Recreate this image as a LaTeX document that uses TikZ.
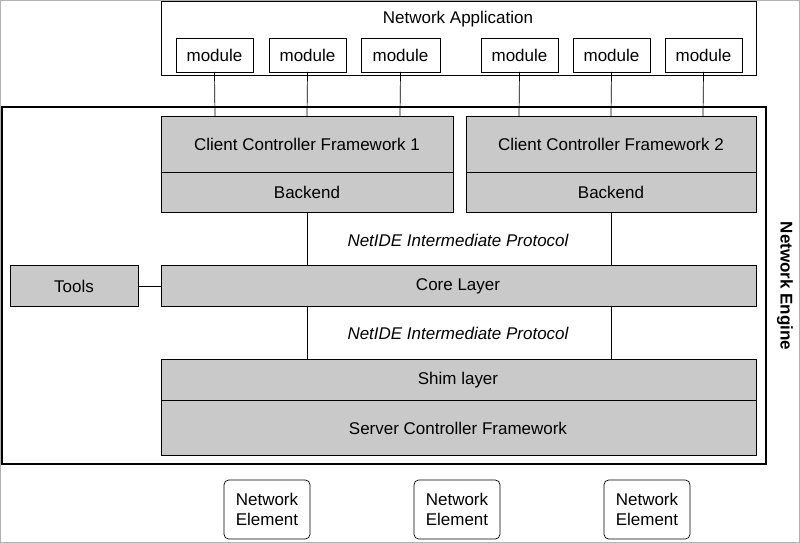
\documentclass[tikz,border=0pt]{standalone}
\usepackage{fontspec}
\setmainfont{Liberation Sans}
\begin{document}
\begin{tikzpicture}[x=0.03cm,y=-0.03cm,
 box/.style={draw,line width=0.6pt},
 gbox/.style={draw,fill=gray!42,line width=0.6pt},
 txt/.style={font=\fontsize{14.5}{17}\selectfont,inner sep=0pt},
 ln/.style={line width=0.6pt}]
\useasboundingbox (0,0) rectangle (800,543);
\draw[gray!60] (0.5,0.5) rectangle (799.5,542.5);
\draw[box] (161,1) rectangle (756,75);
\node[txt] (na) at (458,19) {Network Application};
\foreach \n/\a/\b in {m1/176/253,m2/269/346,m3/361/440,m4/481/558,m5/573/650,m6/665/742}{
  \draw[box] (\a,38) rectangle (\b,72);
  \node[txt] (\n) at ({(\a+\b)/2},55) {module};
  \coordinate (\n b) at ({(\a+\b)/2},72);
}
\draw[line width=1.6pt] (2,107) rectangle (766,464);
\node[txt,font=\fontsize{14.5}{17}\selectfont\bfseries,rotate=-90] (ne) at (785,286) {Network Engine};
\draw[gbox] (161,116) rectangle (453,212); \draw[ln] (161,172)--(453,172);
\node[txt] (c1) at (307,144) {Client Controller Framework 1};
\node[txt] (b1) at (307,192) {Backend};
\draw[gbox] (466,116) rectangle (756,212); \draw[ln] (466,172)--(756,172);
\node[txt] (c2) at (611,144) {Client Controller Framework 2};
\node[txt] (b2) at (611,192) {Backend};
\foreach \n/\x in {m1/215,m2/307,m3/400,m4/519,m5/611,m6/703}
  \draw[ln] (\n b) -- (\x,116);
\draw[gbox] (161,265) rectangle (756,306);
\node[txt] (core) at (458,286) {Core Layer};
\draw[gbox] (10,265) rectangle (138,306);
\node[txt] (tools) at (74,286) {Tools};
\draw[ln] (138,286) -- (161,286);
\draw[ln] (307,212)--(307,265) (611,212)--(611,265);
\draw[ln] (307,306)--(307,359) (611,306)--(611,359);
\node[txt,font=\fontsize{14.5}{17}\selectfont\itshape,fill=white,inner sep=1pt] (p1) at (458,240) {NetIDE Intermediate Protocol};
\node[txt,font=\fontsize{14.5}{17}\selectfont\itshape,fill=white,inner sep=1pt] (p2) at (458,333) {NetIDE Intermediate Protocol};
\draw[gbox] (161,359) rectangle (756,455); \draw[ln] (161,400)--(756,400);
\node[txt] (shim) at (458,380) {Shim layer};
\node[txt] (scf) at (458,428) {Server Controller Framework};
\foreach \n/\a in {e1/224,e2/414,e3/604}{
  \draw[box,rounded corners=4pt] (\a,480) rectangle (\a+86,539);
  \node[txt,align=center] (\n) at (\a+43,509.5) {Network\\Element};
}
\end{tikzpicture}
\end{document}
